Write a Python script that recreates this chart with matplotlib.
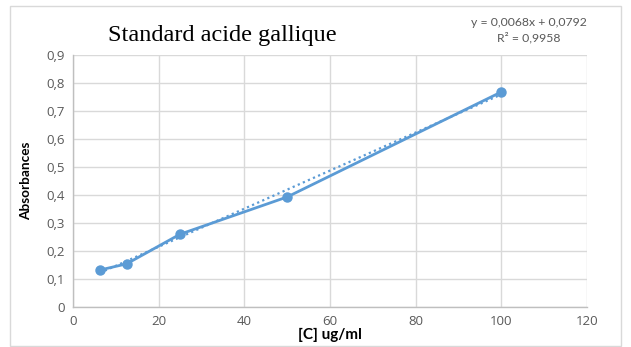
import matplotlib
matplotlib.use("Agg")
import matplotlib.pyplot as plt
from matplotlib.patches import Rectangle
import numpy as np

conc = [6.25, 12.5, 25, 50, 100]
absorb = [0.132, 0.154, 0.26, 0.393, 0.768]
slope, intercept = 0.0068, 0.0792
x_ticks = [0, 20, 40, 60, 80, 100, 120]
y_ticks = [0, 0.1, 0.2, 0.3, 0.4, 0.5, 0.6, 0.7, 0.8, 0.9]
y_tick_labels = ["0", "0,1", "0,2", "0,3", "0,4", "0,5", "0,6", "0,7", "0,8", "0,9"]

blue = "#5B9BD5"
fig = plt.figure(figsize=(6.31, 3.47), dpi=100)
fig.patches.append(Rectangle((10/631, 1/347), 611/631, 340/347, transform=fig.transFigure,
                             fill=False, edgecolor="#D9D9D9", linewidth=1))
ax = fig.add_axes([73/631, 1-307/347, 514/631, 252/347])
ax.set_xlim(0, 120)
ax.set_ylim(0, 0.9)
ax.set_xticks(x_ticks)
ax.set_yticks(y_ticks)
ax.set_yticklabels(y_tick_labels)
ax.grid(True, color="#D9D9D9", linewidth=1)
ax.set_axisbelow(True)
for s in ["top", "right"]:
    ax.spines[s].set_visible(False)
for s in ["left", "bottom"]:
    ax.spines[s].set_color("#BFBFBF")
    ax.spines[s].set_linewidth(1)
ax.tick_params(length=0, colors="#595959", labelsize=9.5, pad=6)
for lab in ax.get_xticklabels() + ax.get_yticklabels():
    lab.set_fontfamily("Open Sans")

xs = np.array([conc[0], conc[-1]])
ax.plot(xs, slope*xs + intercept, linestyle=(0, (1, 1.5)), color=blue, linewidth=1.6)
ax.plot(conc, absorb, color=blue, linewidth=2, marker="o", markersize=6.5, clip_on=False)

fig.text(222/631, 1-35/347, "Standard acide gallique", family="Liberation Serif",
         fontsize=17.5, ha="center", va="center", color="black")
fig.text(529/631, 1-22/347, "y = 0,0068x + 0,0792", family="Lato", fontsize=8.8,
         ha="center", va="center", color="#595959")
fig.text(529/631, 1-38/347, "R² = 0,9958", family="Lato", fontsize=8.8,
         ha="center", va="center", color="#595959")
ax.set_xlabel("[C] ug/ml", family="Lato", fontweight="bold", fontsize=11, labelpad=0, color="black")
ax.set_ylabel("Absorbances", family="Lato", fontweight="bold", fontsize=9.8, labelpad=10, color="black")
fig.savefig("out.png", dpi=100)
